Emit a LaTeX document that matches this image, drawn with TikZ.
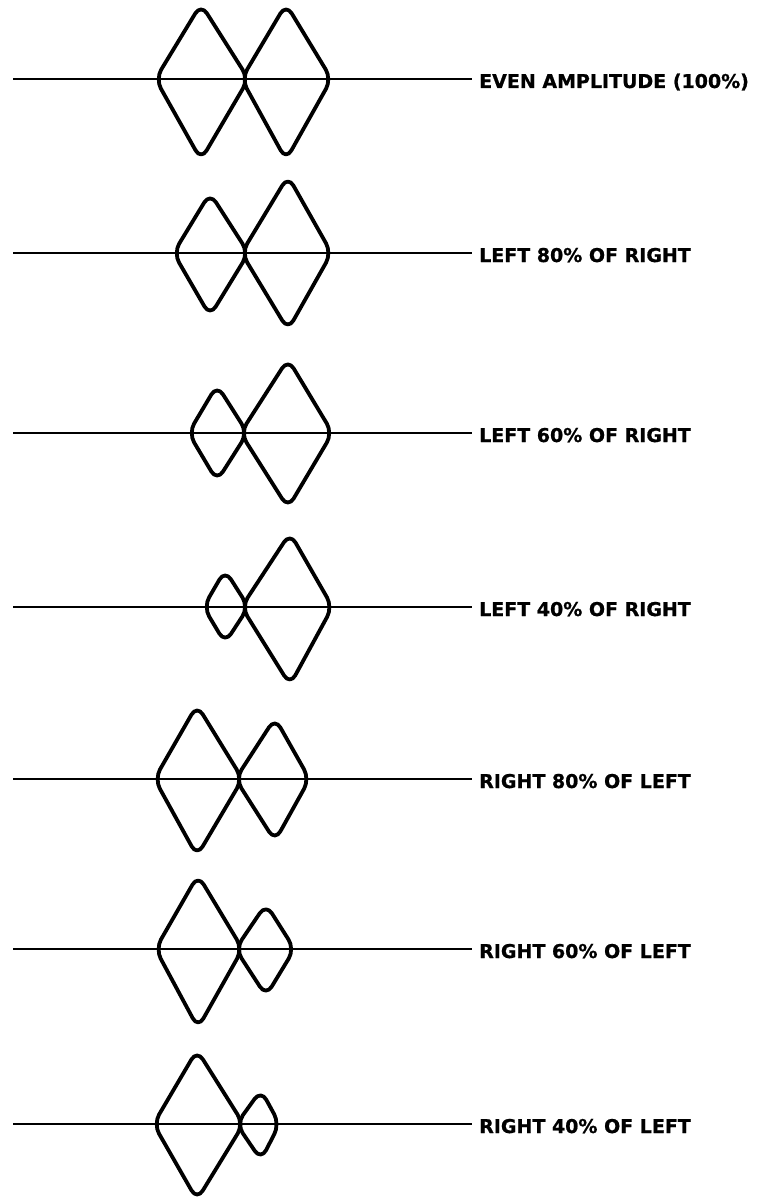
\documentclass[tikz,border=0pt]{standalone}
\usepackage{fontspec}
\newfontfamily\labfont{DejaVu Sans}[BoldFeatures={FakeBold=0.8}]
\usetikzlibrary{calc}
\tikzset{
  lobe/.style={line width=3.8pt, rounded corners=11pt, line join=round},
  axisline/.style={line width=2.3pt},
  lab/.style={anchor=base west, inner sep=0pt, font=\labfont\bfseries\fontsize{19}{22}\selectfont}
}
% #1 left x, #2 apex x, #3 right x, #4 top y, #5 bottom y, #6 axis y
\newcommand\lobe[6]{\draw[lobe] ($({#1-1.5},#6)!0.5!(#2,{#4-1})$) -- (#2,{#4-1}) -- ({#3+1.5},#6) -- (#2,{#5+1}) -- ({#1-1.5},#6) -- cycle;}
\newcommand\rowline[4]{%
  \coordinate (s#1) at (13,#2);
  \node[lab] (t#1) at (479,{#2+9}) {#3};
  \draw[axisline] (s#1) -- ($(s#1 -| t#1.west)+(-7,0)$);
}
\begin{document}
\begin{tikzpicture}[x=1pt,y=-1pt]
\useasboundingbox (0,0) rectangle (758,1201);
\rowline{1}{79}{EVEN AMPLITUDE (100\%)}{}
\lobe{157}{201}{247}{5}{159}{79}
\lobe{243}{286}{330}{5}{159}{79}

\rowline{2}{253}{LEFT 80\% OF RIGHT}{}
\lobe{175}{210}{247}{194}{315}{253}
\lobe{243}{288}{330}{177}{329}{253}

\rowline{3}{433}{LEFT 60\% OF RIGHT}{}
\lobe{190}{217}{246}{386}{480}{433}
\lobe{242}{288}{331}{360}{507}{433}

\rowline{4}{607}{LEFT 40\% OF RIGHT}{}
\lobe{205}{225}{247}{571}{642}{607}
\lobe{243}{290}{331}{534}{684}{607}

\rowline{5}{779}{RIGHT 80\% OF LEFT}{}
\lobe{156}{197}{241}{706}{855}{779}
\lobe{237}{275}{308}{719}{840}{779}

\rowline{6}{949}{RIGHT 60\% OF LEFT}{}
\lobe{157}{198}{241}{876}{1027}{949}
\lobe{237}{266}{293}{905}{995}{949}

\rowline{7}{1124}{RIGHT 40\% OF LEFT}{}
\lobe{155}{197}{242}{1051}{1199}{1124}
\lobe{238}{261}{278}{1091}{1159}{1124}
\end{tikzpicture}
\end{document}
